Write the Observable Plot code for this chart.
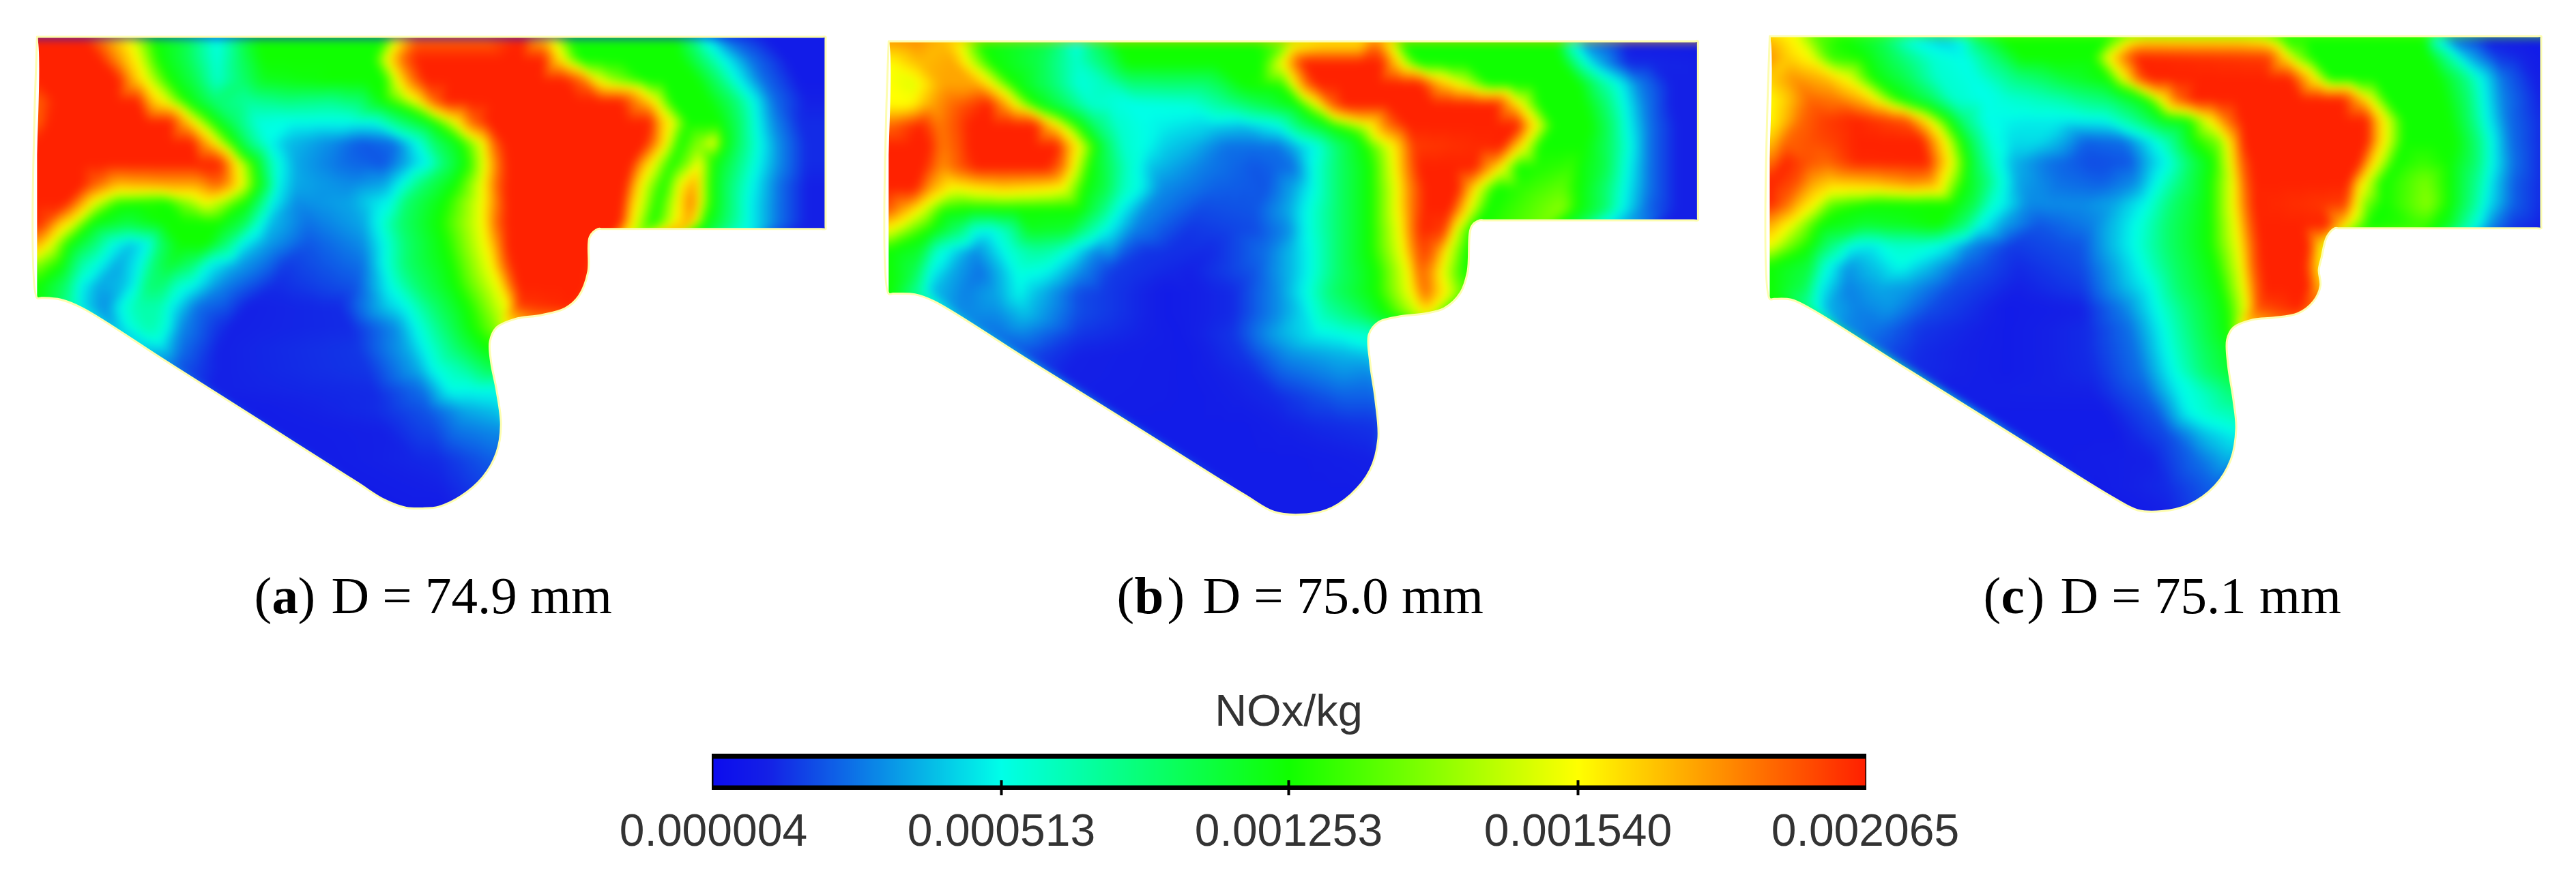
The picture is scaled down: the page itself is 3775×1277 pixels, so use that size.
<!DOCTYPE html>
<html><head><meta charset="utf-8">
<style>html,body{margin:0;background:#fff}svg{display:block}</style>
<script src="https://cdn.jsdelivr.net/npm/d3@7"></script>
<script src="https://cdn.jsdelivr.net/npm/@observablehq/plot@0.6"></script>
</head><body>
<div id="chart"></div>
<script>
// Colour bar: labels and stops, in units of 1e-5 NOx/kg for the field rows
const tickLabels = ["0.000004","0.000513","0.001253","0.001540","0.002065"];
const tickStops  = [0.4, 51.3, 125.3, 154.0, 206.5];
const colorDomain = [0.4, 10, 51.3, 125.3, 154.0, 206.5];
const stopColors = ["#0c0cee","#1420e6","#00ffe8","#10ff00","#ffff00","#ff2000"];
const barX = [1045,1467,1888,2312,2733];
const captions = ["a","b","c"];
const diameters = ["D = 74.9 mm","D = 75.0 mm","D = 75.1 mm"];
const captionX = [372,1636,2906];
const closeParenOffset = [64,74,64];
const diameterOffset = [113,126,113];

// Field readings: each row is [Y, x, value, x, value, ...], in crop reading units
const rowsA = [
[108,67,206,150,206,200,175,235,154,280,125,340,100,395,51,440,100,470,125,700,125,725,154,760,190,880,190,950,206,985,170,1005,154,1040,125,1230,125,1260,90,1285,51,1320,25,1400,8,1505,8],
[170,67,206,180,206,220,175,250,154,290,125,340,100,395,55,440,95,480,125,680,125,705,154,735,190,760,206,990,206,1015,165,1040,140,1060,125,1240,125,1280,90,1320,51,1370,25,1440,8,1505,8],
[230,67,206,215,206,245,170,265,154,310,125,355,100,395,60,440,90,480,115,600,125,700,125,725,154,750,185,775,206,1030,206,1060,190,1090,154,1120,140,1180,125,1270,125,1310,90,1345,51,1390,25,1460,8,1505,8],
[290,67,190,100,206,250,206,275,170,300,154,340,125,390,90,450,75,520,85,600,80,700,125,735,140,760,154,790,190,815,206,1130,206,1170,175,1195,154,1225,125,1290,125,1340,90,1375,51,1410,25,1470,10,1505,10],
[350,67,190,90,206,310,206,335,175,355,154,390,125,430,90,470,55,530,51,600,51,680,52,730,90,790,125,830,154,860,190,890,206,1185,206,1205,170,1225,154,1255,125,1310,125,1350,90,1380,51,1410,30,1460,12,1505,12],
[410,67,206,350,206,375,175,395,154,425,125,460,80,490,51,520,40,600,30,660,20,720,25,760,51,790,90,840,125,880,154,900,190,920,206,1175,206,1200,175,1215,154,1240,125,1275,140,1300,154,1320,125,1350,90,1385,51,1420,30,1470,12,1505,12],
[470,67,206,400,206,420,175,435,154,465,125,490,75,510,51,540,35,620,25,700,20,750,40,780,51,810,90,850,125,885,154,905,185,925,206,1150,206,1170,175,1190,154,1225,125,1255,140,1275,154,1300,125,1340,90,1380,51,1420,30,1470,12,1505,12],
[530,67,206,150,206,175,190,215,170,300,175,360,175,395,190,420,175,440,154,470,125,490,90,505,51,540,35,640,30,700,35,730,51,770,90,830,125,880,154,905,190,925,206,1140,206,1155,175,1170,154,1210,125,1240,154,1265,175,1285,140,1320,100,1370,51,1420,25,1470,10,1505,10],
[580,67,206,120,206,150,175,170,154,215,130,300,125,340,140,375,154,415,140,450,125,480,80,495,51,540,30,640,35,680,45,710,51,740,90,810,125,880,154,905,185,925,206,1135,206,1150,170,1165,154,1200,125,1235,154,1260,185,1285,140,1320,100,1365,51,1420,25,1470,10,1505,10],
[640,67,206,85,195,105,170,130,154,165,125,230,105,300,125,400,125,445,100,470,60,490,40,560,25,660,35,690,51,730,90,800,125,880,154,905,190,925,206,1130,206,1145,170,1155,154,1190,125,1230,154,1255,175,1285,125,1320,95,1365,51,1420,25,1470,10,1505,10],
[700,67,175,90,154,125,125,170,90,210,51,240,40,270,51,290,90,330,125,375,125,410,90,440,51,480,35,560,20,660,30,700,51,740,90,810,125,885,154,910,185,925,206,1075,206],
[760,67,140,110,125,150,70,180,51,215,35,255,51,280,90,310,110,350,90,380,51,430,35,520,15,660,25,700,51,740,90,820,125,895,154,915,185,935,206,1070,206],
[820,67,125,120,90,145,51,180,35,225,40,245,51,270,90,295,90,325,60,350,51,400,30,500,12,650,20,710,51,760,90,830,125,910,154,925,180,945,206,1065,206],
[880,67,125,130,70,150,45,190,30,220,51,250,70,290,70,310,51,360,25,450,10,620,12,700,40,740,51,790,90,850,125,925,154,945,200,1040,206],
[940,205,35,230,51,270,70,295,60,330,30,420,10,640,12,720,30,760,51,810,90,860,125,905,140],
[1000,265,40,295,45,330,25,400,10,650,14,740,35,775,51,830,90,890,125],
[1060,325,20,400,10,670,14,760,35,790,51,840,70,895,100],
[1120,385,10,680,12,770,25,820,51,860,51,905,51],
[1180,445,8,680,12,780,20,850,35,910,40],
[1240,500,8,700,10,830,25,915,30],
[1320,580,8,800,12,900,22],
[1400,660,8,800,10,880,16],
[1460,740,8,800,8]
];
const rowsB = [
[120,52,175,100,180,150,170,180,154,220,125,340,100,395,51,440,100,470,125,720,125,780,140,850,154,910,154,940,185,965,154,990,125,1270,125,1295,60,1320,30,1400,8,1528,8],
[180,52,154,110,170,170,175,195,154,240,125,330,100,395,60,460,100,490,125,730,125,770,154,795,190,810,206,950,206,975,170,1000,140,1020,125,1280,125,1310,75,1340,40,1400,12,1528,10],
[240,52,154,100,150,150,175,210,175,240,154,280,125,350,90,400,55,450,65,560,90,700,125,770,130,790,154,815,190,835,206,1020,206,1060,170,1100,150,1150,125,1310,125,1350,80,1385,51,1420,28,1480,10,1528,10],
[300,52,154,90,154,130,175,170,190,235,206,260,180,285,154,320,125,380,90,420,60,500,51,600,55,660,75,730,100,800,125,835,154,860,190,885,206,1160,206,1185,175,1205,154,1240,125,1320,125,1360,90,1395,51,1430,28,1480,10,1528,10],
[360,52,190,110,206,145,185,175,195,200,206,320,206,345,170,365,154,400,125,430,90,470,60,520,51,610,45,700,40,760,51,800,90,860,125,930,154,960,185,1000,206,1200,206,1220,170,1235,154,1265,125,1330,125,1370,90,1400,51,1440,25,1490,10,1528,10],
[420,52,206,125,206,150,185,180,195,200,206,360,206,380,175,400,154,430,125,450,95,480,60,520,51,600,38,670,25,760,25,800,40,830,51,870,90,920,125,970,154,990,175,1010,200,1170,206,1190,175,1210,154,1240,125,1320,125,1370,90,1405,51,1440,25,1490,10,1528,10],
[480,52,206,115,206,150,180,185,195,215,206,340,206,370,185,390,154,420,125,460,90,490,60,530,40,620,28,720,20,790,25,825,51,870,90,930,125,975,154,995,180,1020,206,1120,206,1150,175,1170,154,1200,125,1300,130,1360,100,1400,51,1440,25,1490,10,1528,10],
[540,52,206,100,206,130,175,170,154,260,165,330,160,370,154,410,125,450,100,480,65,510,51,550,30,650,22,740,20,790,35,825,51,870,90,930,125,980,154,1000,180,1030,206,1090,206,1110,175,1125,154,1160,125,1280,135,1310,125,1360,90,1395,51,1440,25,1490,10,1528,10],
[600,52,195,80,175,110,154,150,130,200,125,330,125,400,125,440,90,475,51,520,30,620,18,720,20,780,35,815,51,870,90,930,125,980,154,1005,185,1030,206,1075,206,1095,175,1110,154,1145,125,1280,140,1310,125,1360,90,1390,51,1440,22,1490,10,1528,10],
[660,52,154,85,140,130,125,180,90,210,55,240,51,270,70,310,115,380,110,420,75,450,51,500,28,600,14,720,18,780,30,815,51,870,90,930,125,985,154,1005,185,1025,206,1065,200,1085,154,1115,125],
[720,52,125,110,110,140,60,170,45,210,30,250,45,280,60,320,75,350,70,385,51,430,30,520,14,640,12,740,25,790,40,820,51,870,90,930,125,990,154,1010,185,1030,200,1050,185,1070,154,1108,125],
[780,52,125,100,100,130,51,170,35,220,25,260,40,290,55,340,50,400,30,460,15,600,10,720,20,790,40,820,51,870,90,940,125,1000,154,1020,190,1040,180,1060,154,1095,130,1108,125],
[840,52,125,110,70,130,40,190,28,250,35,290,50,320,40,400,18,560,8,680,12,760,30,810,50,860,90,940,125,1005,154,1030,190,1050,170,1075,150,1100,135],
[900,180,30,250,30,300,40,400,18,560,8,680,12,760,30,810,45,850,70,900,90,960,125,1020,150,1040,154],
[960,235,25,300,28,400,14,580,8,680,14,760,35,830,48,870,51,930,60],
[1020,300,18,400,10,600,8,700,14,780,30,850,35,930,40],
[1080,370,10,600,8,720,12,820,25,880,30,935,28],
[1140,430,9,620,8,760,12,880,22,940,22],
[1220,500,8,700,8,840,12,945,14],
[1320,605,8,800,8,935,10],
[1420,700,8,895,8],
[1478,770,8,840,8]
];
const rowsC = [
[105,55,170,100,154,140,135,190,125,260,100,320,50,370,40,415,51,450,100,490,125,690,125,720,140,760,154,940,154,975,150,1020,125,1280,125,1305,51,1330,25,1400,8,1502,8],
[165,55,180,90,165,130,154,170,130,230,125,300,90,360,58,420,51,480,90,530,125,660,125,690,154,720,185,745,206,990,200,1020,165,1045,140,1075,125,1290,125,1330,75,1360,40,1420,15,1502,8],
[225,55,165,100,180,160,170,200,154,250,125,310,100,370,60,440,52,520,85,620,110,690,125,720,154,745,190,770,206,1030,206,1060,175,1080,154,1110,125,1310,125,1360,85,1390,51,1430,25,1490,10,1502,10],
[285,55,154,85,165,130,190,180,185,230,170,255,154,300,125,360,95,400,60,460,51,530,60,600,70,690,90,760,125,790,154,820,190,850,206,1130,206,1160,175,1180,154,1215,125,1320,125,1365,90,1395,51,1430,28,1502,10],
[345,55,154,85,170,115,190,160,200,220,206,310,195,335,170,355,154,390,125,420,85,460,51,540,48,600,48,680,50,730,75,790,115,840,125,880,154,910,185,940,206,1175,206,1195,170,1210,154,1245,125,1330,125,1370,90,1400,51,1440,25,1502,12],
[405,55,165,85,190,130,195,180,200,220,206,340,206,365,175,385,154,415,125,440,90,470,55,510,45,560,45,650,22,720,25,770,48,800,70,850,125,900,140,925,170,945,206,1175,206,1195,170,1210,154,1245,125,1340,125,1380,90,1410,51,1445,25,1502,12],
[465,55,185,85,206,125,195,160,190,220,205,350,206,375,175,395,154,425,125,450,90,475,60,510,38,580,25,660,18,730,20,770,40,800,51,850,100,885,125,920,154,940,190,960,206,1160,206,1180,170,1195,154,1230,125,1280,130,1330,125,1380,90,1410,51,1450,25,1502,12],
[525,55,206,105,195,135,175,170,165,250,170,320,180,360,175,380,154,420,125,460,90,485,60,520,35,600,25,680,22,740,30,780,51,830,90,880,125,925,154,945,190,965,206,1140,206,1155,170,1170,154,1205,125,1285,138,1330,125,1380,80,1410,45,1450,22,1502,12],
[585,55,206,85,190,110,170,140,154,170,135,250,125,340,125,400,125,440,100,470,60,490,51,540,30,640,30,700,35,760,51,810,90,880,125,925,154,945,185,965,206,1135,200,1150,165,1170,140,1205,125,1290,140,1330,125,1375,80,1400,48,1450,22,1502,12],
[645,55,175,80,160,110,145,150,125,230,110,300,115,370,125,420,90,450,52,490,35,560,20,660,28,720,45,750,55,800,90,880,125,930,154,950,185,970,206,1100,206,1125,170,1140,154,1180,125,1290,130,1330,115,1375,60,1410,30,1450,15,1502,10],
[705,55,154,85,140,130,125,170,85,210,51,250,48,290,60,330,60,380,51,430,30,510,15,640,20,700,40,740,52,800,90,880,125,935,154,955,185,975,206,1065,206,1085,165,1095,150],
[765,55,125,130,105,160,55,200,32,260,42,300,51,340,42,420,22,520,12,640,18,700,35,750,51,810,90,890,125,940,154,960,190,980,206,1060,206,1075,175,1085,160],
[825,55,125,120,100,150,50,200,28,260,35,320,32,400,18,520,10,640,15,710,35,770,51,820,90,900,125,945,154,965,190,985,206,1065,206,1085,170],
[885,130,70,160,38,220,28,280,32,360,18,500,8,640,10,720,28,780,51,840,90,910,125,950,154,970,195,1050,206],
[945,195,30,260,25,340,14,500,8,650,12,730,25,790,50,850,90,915,125],
[1005,260,20,340,12,500,8,650,12,740,25,800,51,860,90,915,115],
[1065,330,12,500,8,660,12,750,25,810,51,870,90,920,110],
[1125,390,9,660,10,760,22,820,48,860,60,925,90],
[1185,460,8,680,8,780,20,840,50,880,60,930,70],
[1245,530,8,700,8,800,18,870,40,930,50],
[1320,600,8,770,10,860,25,920,38],
[1400,670,8,800,12,885,22],
[1468,745,8,800,10]
];

// Combustion-chamber outlines, clockwise from the top-left corner
const outlineA = [[67,105],[75,105],[1497,105],[1505,105],[1505,113],[1505,649],[1505,657],[1497,657],[1098,657],[1090,657],[1075,680],[1072,780],[1055,850],[1030,885],[985,905],[940,915],[905,940],[893,980],[895,1040],[905,1120],[913,1220],[905,1300],[880,1370],[840,1425],[800,1455],[770,1460],[740,1458],[700,1435],[650,1385],[500,1235],[300,1035],[150,885],[110,860],[75,855],[67,855]];
const outlineB = [[52,118],[60,118],[1520,118],[1528,118],[1528,126],[1528,624],[1528,632],[1520,632],[1138,632],[1130,632],[1115,650],[1108,780],[1095,840],[1065,885],[1030,900],[985,908],[945,925],[928,960],[930,1040],[940,1150],[945,1260],[930,1350],[895,1420],[850,1465],[800,1478],[755,1470],[700,1420],[500,1223],[300,1027],[135,865],[100,845],[60,843],[52,843]];
const outlineC = [[55,103],[63,103],[1494,103],[1502,103],[1502,111],[1502,647],[1502,655],[1494,655],[1123,655],[1115,655],[1100,680],[1090,740],[1085,775],[1088,820],[1075,865],[1045,900],[1000,912],[960,918],[925,940],[913,975],[915,1050],[925,1150],[930,1230],[920,1320],[890,1395],[840,1450],[790,1468],[745,1465],[700,1430],[500,1239],[300,1048],[130,885],[95,860],[63,858],[55,858]];

const panels = [
  {rows:rowsA, outline:outlineA, ox:0,    kx:1568/1260},
  {rows:rowsB, outline:outlineB, ox:1260, kx:1568/1260},
  {rows:rowsC, outline:outlineC, ox:2550, kx:1568/1225}
];
const ky = 1.96;
const labelFont = "Liberation Sans", captionFont = "Liberation Serif";

const marks = [];
panels.forEach((p,i) => {
  const px = x => p.ox + x/p.kx, py = y => y/ky;
  const pts = [];
  for (const r of p.rows) {
    for (let j=1;j<r.length;j+=2) {
      pts.push({x:px(r[j]),y:py(r[0]),v:r[j+1]});
      // a long level stretch of a reading stays level: anchor it for the triangulation
      if (j+2<r.length) {
        const span = r[j+2]-r[j], dv = Math.abs(r[j+3]-r[j+1]);
        if (span>60 && dv<=12) {
          const n = Math.floor(span/45);
          for (let m=1;m<=n;m++) pts.push({x:px(r[j]+span*m/(n+1)),y:py(r[0]),v:r[j+1]+(r[j+3]-r[j+1])*m/(n+1)});
        }
      }
    }
  }
  const shape = p.outline.map(([x,y]) => ({x:px(x),y:py(y)}));
  const xs = d3.extent(shape,d=>d.x), ys = d3.extent(shape,d=>d.y);
  marks.push(Plot.raster(pts,{x:"x",y:"y",fill:"v",x1:xs[0],x2:xs[1],y1:ys[0],y2:ys[1],pixelSize:1,interpolate:"barycentric",blur:6}));
  const o = {x:xs[0]-6,y:ys[0]-6}, o2 = {x:xs[0]-6,y:ys[1]+6}, o3 = {x:xs[1]+6,y:ys[1]+6}, o4 = {x:xs[1]+6,y:ys[0]-6};
  const ring = [o,o2,o3,o4,o,...shape,shape[0],o];
  marks.push(Plot.line(ring,{x:"x",y:"y",fill:"white",stroke:"none",curve:"catmull-rom"}));
  marks.push(Plot.line([...shape,shape[0]],{x:"x",y:"y",stroke:"#fdfdb0",strokeWidth:3,curve:"catmull-rom"}));
  // caption: "(a) D = ..." with a bold letter
  const x0 = captionX[i], by = 898;
  const cap = {y:by,fontSize:77,fontFamily:captionFont,textAnchor:"start",lineAnchor:"bottom",fill:"black"};
  marks.push(Plot.text(["("],{...cap,x:x0}));
  marks.push(Plot.text([captions[i]],{...cap,x:x0+26,fontWeight:"bold"}));
  marks.push(Plot.text([")"],{...cap,x:x0+closeParenOffset[i]}));
  marks.push(Plot.text([diameters[i]],{...cap,x:x0+diameterOffset[i]}));
});

// colour bar
marks.push(Plot.rect([0],{x1:barX[0]-2,x2:barX[4]+2,y1:1105,y2:1158,fill:"black"}));
const barPts = [];
barX.forEach((x,i)=>{ for (const y of [1112,1151]) barPts.push({x,y,v:tickStops[i]}); });
marks.push(Plot.raster(barPts,{x:"x",y:"y",fill:"v",x1:barX[0],x2:barX[4],y1:1112,y2:1151,pixelSize:1,interpolate:"barycentric"}));
marks.push(Plot.ruleX(barX.slice(1,4),{y1:1144,y2:1166,stroke:"black",strokeWidth:4}));
marks.push(Plot.text(tickLabels,{x:(d,i)=>barX[i],y:1239,text:d=>d,fontSize:66,fontFamily:labelFont,fill:"#333",lineAnchor:"bottom"}));
marks.push(Plot.text(["NOx/kg"],{x:barX[2],y:1063,fontSize:65,fontFamily:labelFont,fill:"#333",lineAnchor:"bottom"}));

const chart = Plot.plot({
  width:3775, height:1277, margin:0,
  style:{background:"white"},
  x:{domain:[0,3775],range:[0,3775],axis:null},
  y:{domain:[0,1277],range:[0,1277],axis:null},
  color:{type:"linear",domain:colorDomain,range:stopColors,clamp:true},
  marks
});
document.getElementById("chart").append(chart);
</script>
</body></html>
